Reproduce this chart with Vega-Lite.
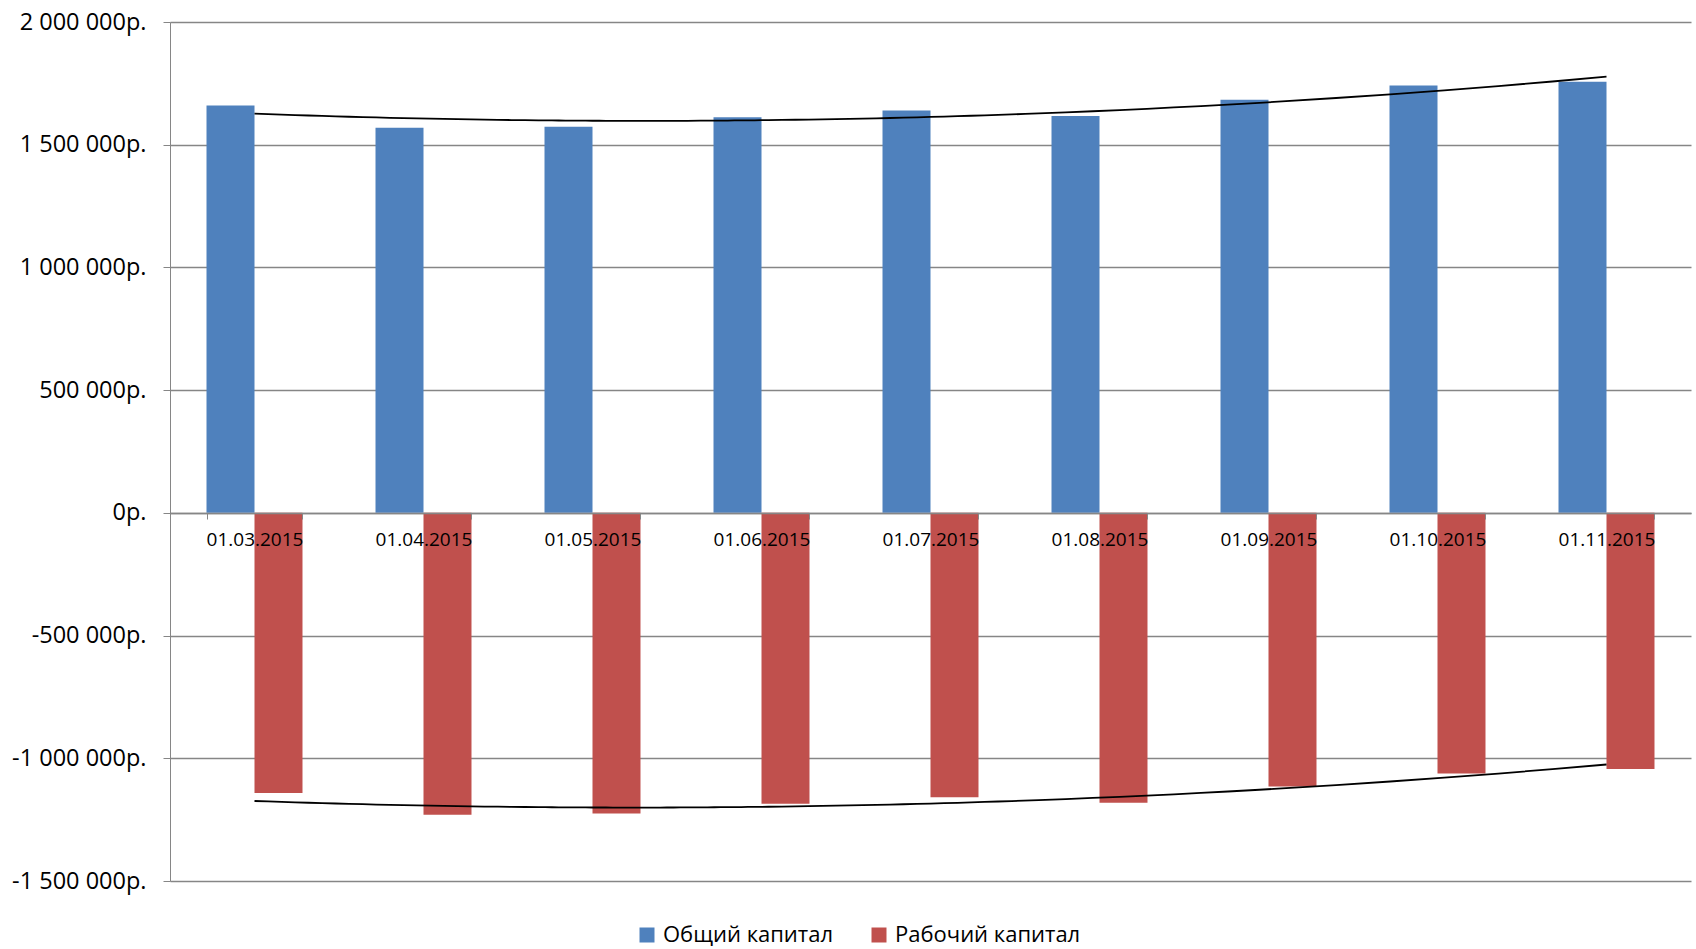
{
  "$schema": "https://vega.github.io/schema/vega-lite/v6.json",
  "autosize": {"type": "none"},
  "padding": {"left": 170, "top": 22, "right": 5, "bottom": 68},
  "width": 1521,
  "height": 859,
  "background": "white",
  "config": {
    "view": {"stroke": null},
    "font": "Open Sans",
    "locale": {"number": {"decimal": ",", "thousands": " ", "grouping": [3], "currency": ["", "р."], "minus": "-"}}
  },
  "data": {
    "values": [
      {"date": "01.03.2015", "idx": 1, "series": "Общий капитал", "value": 1660000},
      {"date": "01.04.2015", "idx": 2, "series": "Общий капитал", "value": 1569000},
      {"date": "01.05.2015", "idx": 3, "series": "Общий капитал", "value": 1573000},
      {"date": "01.06.2015", "idx": 4, "series": "Общий капитал", "value": 1612000},
      {"date": "01.07.2015", "idx": 5, "series": "Общий капитал", "value": 1639000},
      {"date": "01.08.2015", "idx": 6, "series": "Общий капитал", "value": 1617000},
      {"date": "01.09.2015", "idx": 7, "series": "Общий капитал", "value": 1683000},
      {"date": "01.10.2015", "idx": 8, "series": "Общий капитал", "value": 1741000},
      {"date": "01.11.2015", "idx": 9, "series": "Общий капитал", "value": 1757000},
      {"date": "01.03.2015", "idx": 1, "series": "Рабочий капитал", "value": -1141000},
      {"date": "01.04.2015", "idx": 2, "series": "Рабочий капитал", "value": -1230000},
      {"date": "01.05.2015", "idx": 3, "series": "Рабочий капитал", "value": -1225000},
      {"date": "01.06.2015", "idx": 4, "series": "Рабочий капитал", "value": -1185000},
      {"date": "01.07.2015", "idx": 5, "series": "Рабочий капитал", "value": -1159000},
      {"date": "01.08.2015", "idx": 6, "series": "Рабочий капитал", "value": -1181000},
      {"date": "01.09.2015", "idx": 7, "series": "Рабочий капитал", "value": -1115000},
      {"date": "01.10.2015", "idx": 8, "series": "Рабочий капитал", "value": -1062000},
      {"date": "01.11.2015", "idx": 9, "series": "Рабочий капитал", "value": -1044000}
    ]
  },
  "encoding": {
    "y": {
      "field": "value",
      "type": "quantitative",
      "scale": {"domain": [-1500000, 2000000], "nice": false, "zero": false},
      "axis": {
        "title": null,
        "values": [-1500000, -1000000, -500000, 0, 500000, 1000000, 1500000, 2000000],
        "format": "$,.0f",
        "labelFont": "Open Sans",
        "labelFontSize": 23.5,
        "labelColor": "#000000",
        "labelPadding": 17,
        "tickColor": "#868686",
        "tickSize": 7,
        "domainColor": "#868686",
        "gridColor": "#868686",
        "gridWidth": 1.3,
        "grid": true,
        "zindex": 0
      }
    }
  },
  "layer": [
    {
      "mark": {"type": "bar"},
      "encoding": {
        "x": {
          "field": "date",
          "type": "nominal",
          "sort": {"field": "idx"},
          "scale": {"paddingInner": 0.432, "paddingOuter": 0.216},
          "axis": {
            "title": null,
            "orient": "bottom",
            "offset": -368,
            "labelAngle": 0,
            "labelFont": "Open Sans",
            "labelFontSize": 19,
            "labelColor": "#000000",
            "labelPadding": 11,
            "tickBand": "extent",
            "tickColor": "#868686",
            "tickSize": 6,
            "domainColor": "#868686",
            "domainWidth": 1.3,
            "grid": false,
            "zindex": 1
          }
        },
        "xOffset": {"field": "series", "type": "nominal", "scale": {"paddingInner": 0, "paddingOuter": 0}},
        "color": {
          "field": "series",
          "type": "nominal",
          "scale": {"domain": ["Общий капитал", "Рабочий капитал"], "range": ["#4F81BD", "#C0504D"]},
          "legend": {
            "title": null,
            "orient": "none",
            "direction": "horizontal",
            "legendX": 466,
            "legendY": 902,
            "symbolType": "square",
            "symbolSize": 225,
            "symbolStrokeWidth": 0,
            "symbolOpacity": 1,
            "labelFont": "Open Sans",
            "labelFontSize": 22,
            "labelLimit": 0,
            "labelColor": "#000000",
            "labelOffset": 5,
            "columnPadding": 34,
            "padding": 0
          }
        }
      }
    },
    {
      "transform": [
        {"regression": "value", "on": "idx", "groupby": ["series"], "method": "poly", "order": 2, "extent": [1, 9]}
      ],
      "mark": {"type": "line", "color": "#000000", "strokeWidth": 1.8},
      "encoding": {
        "x": {"field": "idx", "type": "quantitative", "scale": {"domain": [0.5, 9.5], "nice": false, "zero": false}, "axis": null},
        "detail": {"field": "series", "type": "nominal"}
      }
    }
  ],
  "resolve": {"scale": {"x": "independent"}}
}
